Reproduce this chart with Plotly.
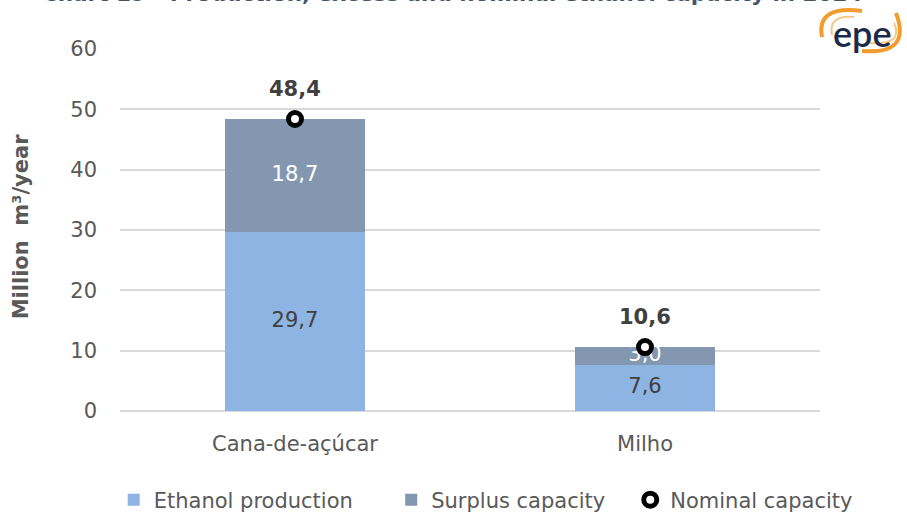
import plotly.graph_objects as go

categories = ["Cana-de-açúcar", "Milho"]
production = [29.7, 7.6]
surplus = [18.7, 3.0]
nominal = [48.4, 10.6]
y_ticks = [0, 10, 20, 30, 40, 50, 60]

def br(v):
    return f"{v:.1f}".replace(".", ",")

FONT = "DejaVu Sans"
C_PROD = "#8db4e2"
C_SURP = "#8497b0"
GRAY = "#595959"
FS = 21
NB = "\u00a0"

fig = go.Figure()
fig.add_trace(go.Bar(x=categories, y=production, name="Ethanol production" + NB * 5,
                     marker=dict(color=C_PROD, line=dict(width=0)), width=0.4))
fig.add_trace(go.Bar(x=categories, y=surplus, name="Surplus capacity" + NB * 3,
                     marker=dict(color=C_SURP, line=dict(width=0)), width=0.4))
# inside labels
fig.add_trace(go.Scatter(x=categories, y=[p / 2 for p in production], mode="text",
                         text=[br(v) for v in production], showlegend=False,
                         textfont=dict(family=FONT, size=FS, color="#404040"),
                         hoverinfo="skip"))
fig.add_trace(go.Scatter(x=categories, y=[p + s / 2 for p, s in zip(production, surplus)],
                         mode="text", text=[br(v) for v in surplus], showlegend=False,
                         textfont=dict(family=FONT, size=FS, color="white"),
                         hoverinfo="skip"))
fig.add_trace(go.Scatter(x=categories, y=nominal, mode="markers", name="Nominal capacity",
                         marker=dict(symbol="circle", size=13, color="white",
                                     line=dict(color="black", width=5))))

annotations = []
for c, v in zip(categories, nominal):
    annotations.append(dict(x=c, y=v, xref="x", yref="y", text=f"<b>{br(v)}</b>",
                            showarrow=False, yshift=30, xshift=0,
                            font=dict(family=FONT, size=FS, color="#404040")))

annotations += [
    dict(text="<b>Million  m³/year</b>", textangle=-90, xref="paper", yref="paper",
         x=-0.141, y=0.511, xanchor="center", yanchor="middle", showarrow=False,
         font=dict(family=FONT, size=FS, color=GRAY)),
    dict(text="<b>Chart 19 - Production, excess and nominal ethanol capacity in 2024</b>",
         xref="paper", yref="paper", x=0.4736, y=1.113, xanchor="center", yanchor="bottom",
         showarrow=False, font=dict(family=FONT, size=21.5, color="#44546a")),
    dict(text="epe", xref="paper", yref="paper", x=1.0614, y=1.045, xanchor="center",
         yanchor="middle", showarrow=False,
         font=dict(family="Lato", size=36, color="#1b2a4a", weight=600)),
]

def arc(path, color, width):
    return dict(type="path", xref="paper", yref="paper", xsizemode="pixel",
                ysizemode="pixel", xanchor=1, yanchor=1, path=path,
                line=dict(color=color, width=width))

shapes = [
    arc("M 2,12 Q -4,44 42,38", "#f39c2e", 4),
    arc("M 12,14 Q 8,34 34,32", "#f8c684", 2),
    arc("M 42,-2 Q 92,-6 76,36", "#f39c2e", 4),
    arc("M 50,6 Q 84,4 74,26", "#f8c684", 2),
]

fig.update_layout(
    width=907, height=512,
    margin=dict(l=120, r=87, t=49, b=101, autoexpand=False),
    paper_bgcolor="white", plot_bgcolor="white",
    barmode="stack",
    font=dict(family=FONT, color=GRAY, size=FS),
    showlegend=True,
    legend=dict(orientation="h", x=-0.009, xanchor="left", y=-0.246, yanchor="middle",
                font=dict(family=FONT, size=FS, color=GRAY), traceorder="normal",
                itemwidth=30, bgcolor="rgba(0,0,0,0)"),
    xaxis=dict(range=[-0.5, 1.5], showgrid=False, showline=False, ticks="",
               tickfont=dict(family=FONT, size=FS, color=GRAY), ticklabelstandoff=18),
    yaxis=dict(range=[0, 60], tickvals=y_ticks, showgrid=True, gridcolor="#d9d9d9",
               gridwidth=1.5, zeroline=True, zerolinecolor="#d9d9d9", zerolinewidth=1.5,
               showline=False, ticks="", ticklabelstandoff=22,
               tickfont=dict(family=FONT, size=FS, color=GRAY)),
    annotations=annotations,
    shapes=shapes,
)

fig.write_html("out.html")
